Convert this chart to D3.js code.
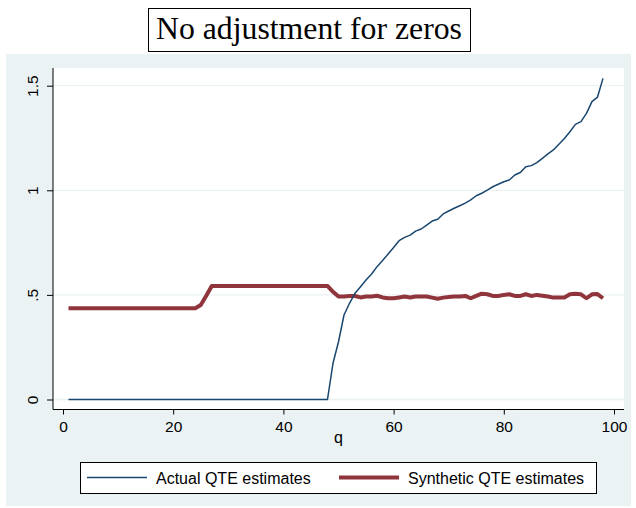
<!DOCTYPE html>
<html>
<head>
<meta charset="utf-8">
<script src="https://cdn.jsdelivr.net/npm/d3@7"></script>
<style>
  html, body { margin: 0; padding: 0; background: #ffffff; }
  svg { display: block; }
</style>
</head>
<body>
<svg id="chart" width="636" height="508"></svg>
<script>
// ---------- data ----------
const titleText = "No adjustment for zeros";
const xLabel = "q";
const seriesNames = ["Actual QTE estimates", "Synthetic QTE estimates"];
const xTicks = [0, 20, 40, 60, 80, 100];
const yTicks = [0, 0.5, 1, 1.5];
const yTickLabels = ["0", ".5", "1", "1.5"];
const quantiles = d3.range(1, 99); // q = 1..98

const actualQTE = [
  0,0,0,0,0,0,0,0,0,0, 0,0,0,0,0,0,0,0,0,0,
  0,0,0,0,0,0,0,0,0,0, 0,0,0,0,0,0,0,0,0,0,
  0,0,0,0,0,0,0,0,
  0.173,0.276,0.404,0.460,0.508,0.539,0.571,0.600,0.635,0.664,
  0.695,0.727,0.759,0.775,0.786,0.805,0.815,0.834,0.853,0.862,
  0.887,0.901,0.914,0.926,0.939,0.954,0.974,0.986,1.001,1.017,
  1.029,1.041,1.049,1.073,1.085,1.113,1.118,1.132,1.153,1.174,
  1.193,1.220,1.248,1.280,1.315,1.328,1.368,1.424,1.445,1.535
];

const syntheticQTE = [
  0.436,0.436,0.436,0.436,0.436,0.436,0.436,0.436,0.436,0.436,
  0.436,0.436,0.436,0.436,0.436,0.436,0.436,0.436,0.436,0.436,
  0.436,0.436,0.436,0.436,
  0.452,0.496,
  0.543,0.543,0.543,0.543,0.543,0.543,0.543,0.543,0.543,0.543,
  0.543,0.543,0.543,0.543,0.543,0.543,0.543,0.543,0.543,0.543,
  0.543,0.543,
  0.515,
  0.492,0.492,0.495,0.495,0.488,0.492,0.492,0.496,0.488,0.484,
  0.484,0.488,0.492,0.488,0.492,0.492,0.492,0.487,0.482,0.487,
  0.490,0.492,0.492,0.495,0.484,0.495,0.506,0.503,0.495,0.495,
  0.500,0.503,0.495,0.495,0.503,0.495,0.500,0.496,0.492,0.487,
  0.488,0.488,0.503,0.506,0.503,0.484,0.503,0.504,0.484
];

// ---------- layout ----------
const svg = d3.select("#chart");
const bgColor = "#eaf2f3";
const blue = "#1a476f";
const red = "#90353b";
const sans = "'Liberation Sans', Arial, sans-serif";

const plotL = 53, plotR = 624, plotT = 68, plotB = 409.5;

const x = d3.scaleLinear().domain([0, 100]).range([63, 614]);
const y = d3.scaleLinear().domain([0, 1.5]).range([399.5, 85.7]);

// outer background
svg.append("rect").attr("x", 6).attr("y", 54).attr("width", 625).attr("height", 452)
  .attr("fill", bgColor);

// plot region
svg.append("rect").attr("x", plotL).attr("y", plotT)
  .attr("width", plotR - plotL).attr("height", plotB - plotT).attr("fill", "#ffffff");

// gridlines
svg.append("g").selectAll("line").data(yTicks).join("line")
  .attr("x1", plotL).attr("x2", plotR)
  .attr("y1", d => y(d)).attr("y2", d => y(d))
  .attr("stroke", bgColor).attr("stroke-width", 1.3);

// title
const tg = svg.append("g");
const tt = tg.append("text")
  .attr("x", 309).attr("y", 38.5)
  .attr("text-anchor", "middle")
  .attr("font-family", "'Liberation Serif', 'Times New Roman', serif")
  .attr("font-size", 100)
  .attr("fill", "#000")
  .text(titleText);
const tlen = tt.node().getComputedTextLength();
tt.attr("font-size", 100 * 306 / tlen);
tg.insert("rect", "text").attr("x", 148.5).attr("y", 8.5).attr("width", 322).attr("height", 43)
  .attr("fill", "#ffffff").attr("stroke", "#000").attr("stroke-width", 1);

// lines
const line = d3.line().x((d, i) => x(quantiles[i])).y(d => y(d));
svg.append("path").datum(syntheticQTE)
  .attr("d", line).attr("fill", "none")
  .attr("stroke", red).attr("stroke-width", 4).attr("stroke-linejoin", "round");
svg.append("path").datum(actualQTE)
  .attr("d", line).attr("fill", "none")
  .attr("stroke", blue).attr("stroke-width", 1.5).attr("stroke-linejoin", "round");

// x axis
const xAxis = d3.axisBottom(x).tickValues(xTicks).tickSize(5).tickPadding(6).tickSizeOuter(0);
const gx = svg.append("g").attr("transform", `translate(0,${plotB})`).call(xAxis);
gx.select(".domain").attr("d", `M${plotL},0H${plotR}`).attr("stroke", "#000");
gx.selectAll(".tick line").attr("stroke", "#000");
gx.selectAll("text").attr("font-family", sans).attr("font-size", 15.5).attr("fill", "#000");

// y axis
const yAxis = d3.axisLeft(y).tickValues(yTicks)
  .tickFormat((d, i) => yTickLabels[i]).tickSize(6).tickSizeOuter(0);
const gy = svg.append("g").attr("transform", `translate(${plotL},0)`).call(yAxis);
gy.select(".domain").attr("d", `M0,${plotT}V${plotB}`).attr("stroke", "#000");
gy.selectAll(".tick line").attr("stroke", "#000");
gy.selectAll("text")
  .attr("font-family", sans).attr("font-size", 15.5).attr("fill", "#000")
  .attr("transform", "rotate(-90)")
  .attr("text-anchor", "middle")
  .attr("x", 0).attr("y", -15.5).attr("dy", 0);

// x label
svg.append("text").attr("x", x(50)).attr("y", 443)
  .attr("text-anchor", "middle").attr("font-family", sans).attr("font-size", 16)
  .attr("fill", "#000").text(xLabel);

// legend
const lg = svg.append("g");
lg.append("rect").attr("x", 80.5).attr("y", 462.5).attr("width", 516).attr("height", 31)
  .attr("fill", "#ffffff").attr("stroke", "#000").attr("stroke-width", 1);
const legendItems = [
  { name: seriesNames[0], color: blue, w: 1.5, x0: 87, x1: 147, tx: 156 },
  { name: seriesNames[1], color: red, w: 4, x0: 339, x1: 399, tx: 408 }
];
legendItems.forEach(it => {
  lg.append("line").attr("x1", it.x0).attr("x2", it.x1).attr("y1", 477.5).attr("y2", 477.5)
    .attr("stroke", it.color).attr("stroke-width", it.w);
  lg.append("text").attr("x", it.tx).attr("y", 483.5)
    .attr("font-family", sans).attr("font-size", 16).attr("fill", "#000").text(it.name);
});
</script>
</body>
</html>
